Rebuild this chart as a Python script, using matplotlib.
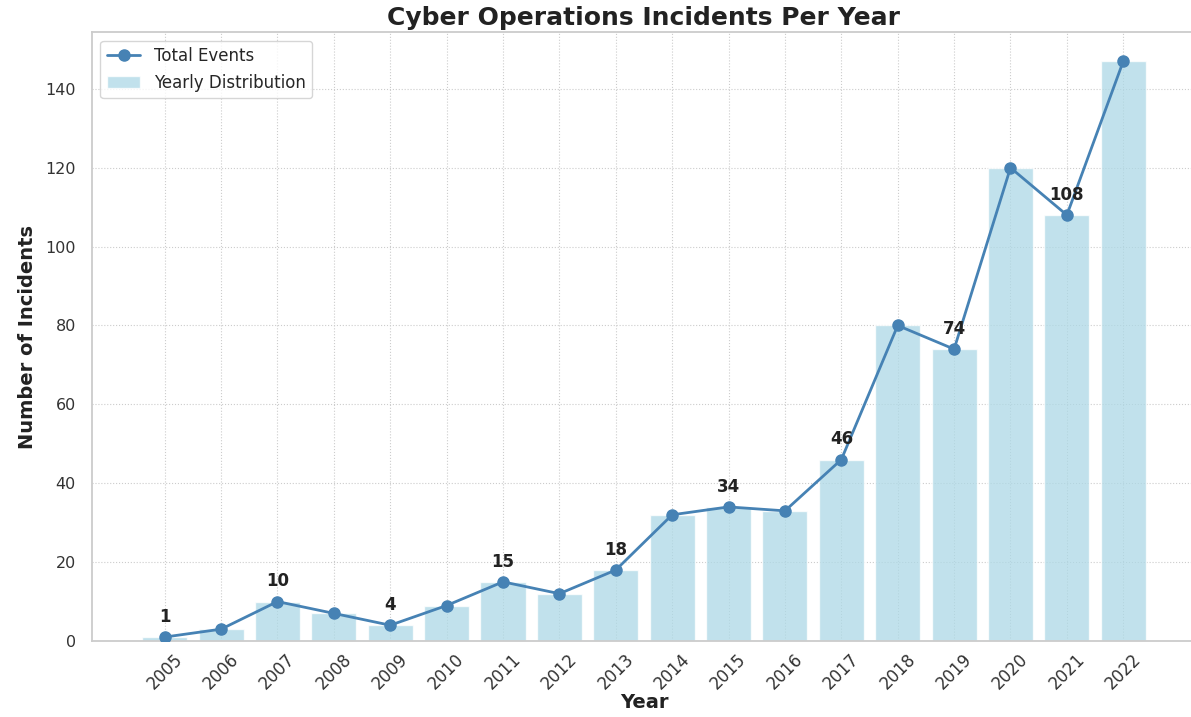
import matplotlib
matplotlib.use("Agg")
import matplotlib.pyplot as plt
import seaborn as sns

# data
years = [2005, 2006, 2007, 2008, 2009, 2010, 2011, 2012, 2013,
         2014, 2015, 2016, 2017, 2018, 2019, 2020, 2021, 2022]
incidents = [1, 3, 10, 7, 4, 9, 15, 12, 18,
             32, 34, 33, 46, 80, 74, 120, 108, 147]


def main():
    sns.set_style("whitegrid")
    plt.rcParams['font.family'] = ['DejaVu Sans']

    fig = plt.figure(figsize=(11.91, 7.17), dpi=100)
    ax = fig.add_axes([0.0772, 0.106, 0.927, 0.849])

    ax.bar(years, incidents, color="lightblue", alpha=0.75, width=0.8,
           label="Yearly Distribution", zorder=2)
    ax.plot(years, incidents, color="steelblue", marker="o", linewidth=2,
            markersize=8, label="Total Events", zorder=3)

    # label every second year
    for i in range(0, len(years), 2):
        ax.annotate(str(incidents[i]), (years[i], incidents[i]),
                    xytext=(0, 8), textcoords="offset points",
                    ha="center", va="bottom", fontsize=12,
                    fontweight="bold", color="#222222", zorder=4)

    ax.set_title("Cyber Operations Incidents Per Year", fontsize=18,
                 fontweight="bold", color="#222222", pad=5)
    ax.set_xlabel("Year", fontsize=14, fontweight="bold", color="#222222",
                  labelpad=0)
    ax.set_ylabel("Number of Incidents", fontsize=14, fontweight="bold",
                  color="#222222", labelpad=6)

    ax.set_xticks(years)
    ax.set_xticklabels([str(y) for y in years], rotation=45, fontsize=12,
                       color="#333333")
    ax.tick_params(axis="x", pad=3)
    ax.tick_params(axis="y", labelsize=11.5, labelcolor="#333333", pad=8)

    ax.grid(True, linestyle=":", linewidth=0.8, color="#cccccc", zorder=0)
    ax.set_axisbelow(True)
    for s in ax.spines.values():
        s.set_color("#cccccc")
        s.set_linewidth(1.3)

    ax.legend(loc="upper left", fontsize=12, frameon=True)

    fig.savefig("out.png", dpi=100)


if __name__ == '__main__':
    main()
